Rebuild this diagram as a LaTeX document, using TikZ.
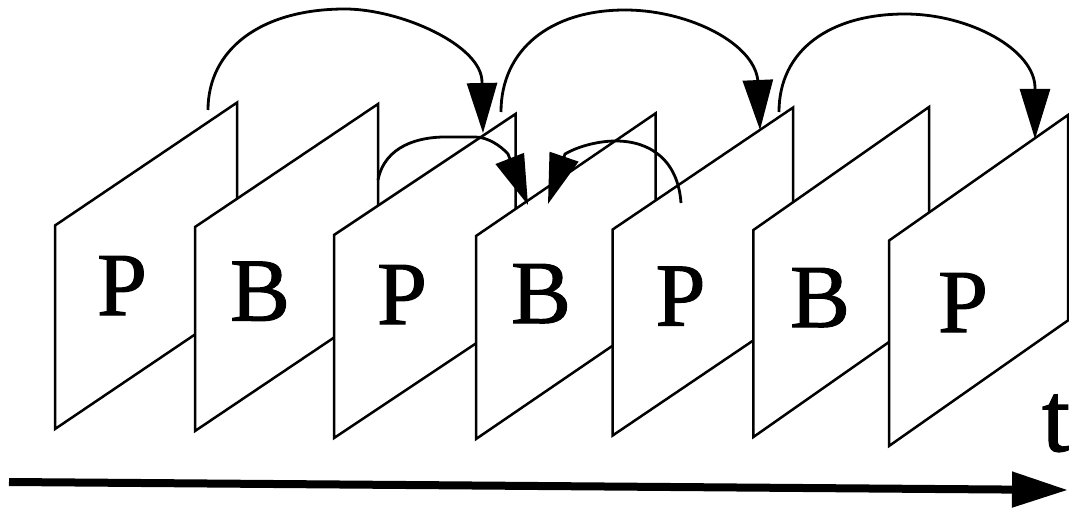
\documentclass[tikz,border=0pt]{standalone}
\usepackage{fontspec}
\setmainfont{Liberation Serif}
\newfontfamily\inkfont[FakeBold=1.2]{Liberation Serif}
\usetikzlibrary{arrows.meta}
\begin{document}
\begin{tikzpicture}[x=1pt,y=-1pt,
  frm/.style={draw=black, fill=white, line width=2.5pt, line join=miter},
  lbl/.style={font=\inkfont\fontsize{90}{90}\selectfont, anchor=base, inner sep=0pt},
  pred/.style={line width=2.8pt, -{Triangle[length=50pt,width=30pt]}},
  timeaxis/.style={line width=8pt, -{Triangle[length=56pt,width=34pt]}}]
\useasboundingbox (0,0) rectangle (1069,508);
% frames (drawn back to front)
\draw[frm] (55,225.5) -- (237,102.6) -- (237,306.1) -- (55,429) -- cycle;
\node[lbl] (f1) at (122,315) {P};
\draw[frm] (195,227) -- (378,104) -- (378,308) -- (195,431) -- cycle;
\node[lbl] (f2) at (260,320.6) {B};
\draw[frm] (334,235) -- (515.5,114) -- (515.5,317) -- (334,438) -- cycle;
\node[lbl] (f3) at (402,324) {P};
\draw[frm] (476,236) -- (655.5,113.4) -- (655.5,316.4) -- (476,439) -- cycle;
\node[lbl] (f4) at (541,323) {B};
\draw[frm] (612.5,229.6) -- (793,107.6) -- (793,313.6) -- (612.5,435.6) -- cycle;
\node[lbl] (f5) at (680.5,325.6) {P};
\draw[frm] (753.4,230) -- (929,107) -- (929,314) -- (753.4,437) -- cycle;
\node[lbl] (f6) at (820,327) {B};
\draw[frm] (889,240.6) -- (1068,115) -- (1068,320.4) -- (889,446) -- cycle;
\node[lbl] (f7) at (963,332) {P};
% prediction arrows
\coordinate (s1) at (208,110);  \coordinate (e1) at (483,133);
\coordinate (s2) at (501,112);  \coordinate (e2) at (760,130);
\coordinate (s3) at (779,112);  \coordinate (e3) at (1035,139);
\coordinate (s4) at (378,180);  \coordinate (e4) at (528,205);
\coordinate (s5) at (681,203);  \coordinate (e5) at (548,204);
\draw[pred] (s1) .. controls (208,50) and (260,9) .. (345,9)
  .. controls (400,9) and (482,45) .. (482,82) -- (e1);
\draw[pred] (s2) .. controls (501,50) and (550,10) .. (625,10)
  .. controls (690,10) and (758,45) .. (758,84) -- (e2);
\draw[pred] (s3) .. controls (779,50) and (830,14) .. (905,14)
  .. controls (970,14) and (1035,50) .. (1035,88) -- (e3);
\draw[pred] (s4) .. controls (385,145) and (420,137) .. (445,137) -- (475,137)
  .. controls (487,137) and (500,145) .. (508,154) -- (e4);
\draw[pred] (s5) .. controls (678,160) and (650,141) .. (616,141)
  .. controls (595,141) and (575,148) .. (565,154) -- (e5);
% time axis
\coordinate (ta) at (9,482);
\coordinate (tb) at (1068,490);
\draw[timeaxis] (ta) -- (tb);
\node[font=\inkfont\fontsize{100}{100}\selectfont, anchor=base, inner sep=0pt] (t) at (1056,451) {t};
\end{tikzpicture}
\end{document}
